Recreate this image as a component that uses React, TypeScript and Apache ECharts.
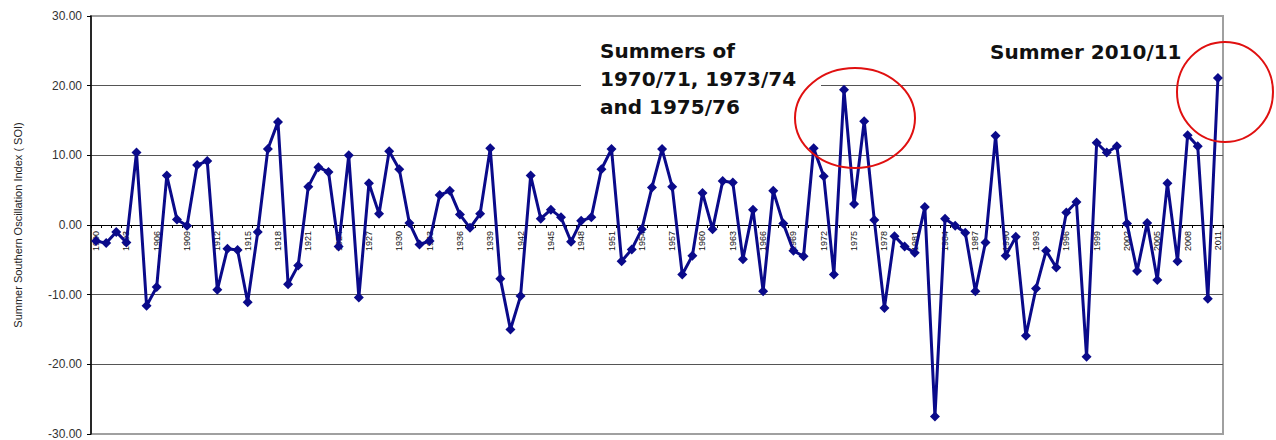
import React, { useEffect, useRef } from "react";
import * as echarts from "echarts";

const years: string[] = [];
for (let y = 1900; y <= 2011; y++) years.push(String(y));

const soi1900s = [-2.3, -2.6, -1.0, -2.5, 10.4, -11.6, -8.9, 7.1, 0.8, -0.1];
const soi1910s = [8.6, 9.2, -9.3, -3.4, -3.6, -11.1, -1.0, 10.9, 14.8, -8.5];
const soi1920s = [-5.8, 5.5, 8.3, 7.6, -3.1, 10.0, -10.4, 6.0, 1.6, 10.6];
const soi1930s = [8.0, 0.3, -2.8, -2.3, 4.3, 4.9, 1.5, -0.4, 1.6, 11.0];
const soi1940s = [-7.7, -15.0, -10.2, 7.1, 0.9, 2.2, 1.1, -2.4, 0.6, 1.1];
const soi1950s = [8.0, 10.9, -5.2, -3.5, -0.6, 5.4, 10.9, 5.5, -7.1, -4.4];
const soi1960s = [4.6, -0.6, 6.3, 6.1, -4.9, 2.2, -9.5, 4.9, 0.2, -3.7];
const soi1970s = [-4.5, 11.0, 7.0, -7.1, 19.4, 3.0, 14.9, 0.7, -11.9, -1.6];
const soi1980s = [-3.1, -4.0, 2.6, -27.5, 0.9, -0.1, -1.1, -9.5, -2.5, 12.8];
const soi1990s = [-4.4, -1.7, -15.9, -9.1, -3.7, -6.1, 1.8, 3.3, -18.9, 11.8];
const soi2000s = [10.4, 11.3, 0.2, -6.6, 0.3, -7.9, 6.0, -5.2, 12.9, 11.3];
const soi2010s = [-10.6, 21.1];

const soiValues = [
  ...soi1900s, ...soi1910s, ...soi1920s, ...soi1930s, ...soi1940s, ...soi1950s,
  ...soi1960s, ...soi1970s, ...soi1980s, ...soi1990s, ...soi2000s, ...soi2010s,
];

const yAxisTitle = "Summer Southern Oscillation Index ( SOI)";
const note1 = "Summers of\n1970/71, 1973/74\nand 1975/76";
const note2 = "Summer 2010/11";

export default function App() {
  const ref = useRef<HTMLDivElement>(null);
  useEffect(() => {
    if (!ref.current) return;
    const chart = echarts.init(ref.current, undefined, { renderer: "svg" });
    chart.setOption({
      animation: false,
      backgroundColor: "#ffffff",
      grid: {
        left: 91,
        right: 53,
        top: 16,
        bottom: 6,
        show: true,
        borderColor: "#a0a0a0",
        borderWidth: 2,
        backgroundColor: "transparent",
      },
      xAxis: {
        type: "category",
        data: years,
        boundaryGap: true,
        offset: -209,
        axisLine: { onZero: false, lineStyle: { color: "#000", width: 1 } },
        axisTick: { show: true, interval: 0, length: 3, lineStyle: { color: "#000" } },
        axisLabel: {
          interval: 2,
          rotate: 90,
          fontSize: 9,
          margin: 6,
          color: "#111",
          fontFamily: "Liberation Sans, Arial, sans-serif",
        },
        splitLine: { show: false },
      },
      yAxis: {
        type: "value",
        min: -30,
        max: 30,
        interval: 10,
        name: yAxisTitle,
        nameLocation: "middle",
        nameGap: 68,
        nameTextStyle: { fontSize: 11, color: "#222", fontFamily: "Liberation Sans, Arial, sans-serif" },
        axisLine: { show: true, lineStyle: { color: "#000", width: 1.5 } },
        axisTick: { show: true, length: 4, lineStyle: { color: "#000" } },
        axisLabel: {
          fontSize: 12,
          color: "#333",
          margin: 9,
          fontFamily: "Liberation Sans, Arial, sans-serif",
          formatter: (v: number) => v.toFixed(2),
        },
        splitLine: { show: true, showMinLine: false, showMaxLine: false, lineStyle: { color: "#555", width: 1 } },
      },
      series: [
        {
          type: "line",
          data: soiValues,
          symbol: "diamond",
          symbolSize: 10,
          showAllSymbol: true,
          showSymbol: true,
          lineStyle: { color: "#0a0a8a", width: 3 },
          itemStyle: { color: "#0a0a8a" },
          z: 3,
        },
      ],
      graphic: [
        {
          type: "rect",
          shape: { x: 581, y: 32, width: 240, height: 88 },
          style: { fill: "#ffffff" },
          z: 10,
        },
        {
          type: "text",
          x: 600,
          y: 37,
          style: {
            text: note1,
            fontSize: 20,
            fontWeight: "bold",
            fontFamily: "DejaVu Sans, sans-serif",
            fill: "#111",
            lineHeight: 28,
          },
          z: 11,
        },
        {
          type: "text",
          x: 990,
          y: 38,
          style: {
            text: note2,
            fontSize: 20,
            fontWeight: "bold",
            fontFamily: "DejaVu Sans, sans-serif",
            fill: "#111",
            lineHeight: 28,
          },
          z: 11,
        },
        {
          type: "ellipse",
          shape: { cx: 855, cy: 118, rx: 60, ry: 50 },
          style: { fill: "none", stroke: "#e01010", lineWidth: 2 },
          z: 12,
        },
        {
          type: "ellipse",
          shape: { cx: 1225, cy: 92, rx: 48, ry: 50 },
          style: { fill: "none", stroke: "#e01010", lineWidth: 2 },
          z: 12,
        },
      ],
    });
    return () => chart.dispose();
  }, []);
  return (
    <div
      ref={ref}
      style={{ position: "fixed", left: 0, top: 0, width: 1276, height: 440, background: "#fff" }}
    />
  );
}
